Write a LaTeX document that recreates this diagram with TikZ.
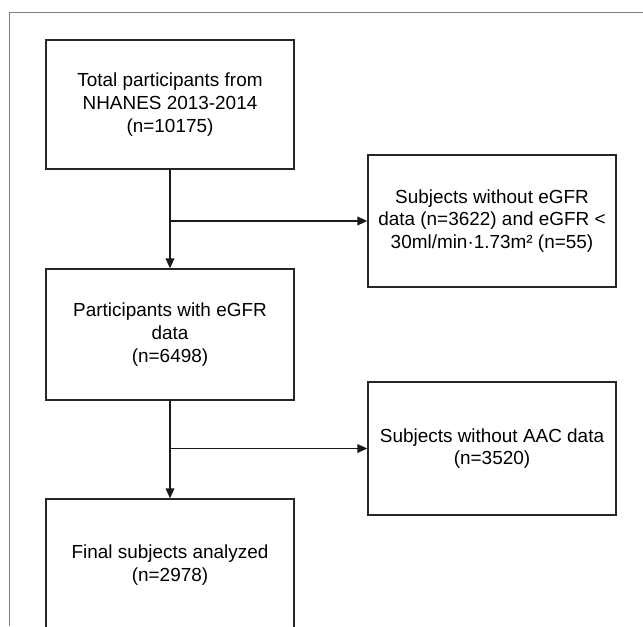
\documentclass[tikz,border=0pt]{standalone}
\usepackage{fontspec}
\setmainfont{Liberation Sans}
\usetikzlibrary{arrows.meta}

\begin{document}
\begin{tikzpicture}[x=0.75pt,y=-0.75pt,>={Triangle[length=7.5pt,width=6.5pt]},
  main node/.style={rectangle,draw=black!85,line width=1pt,align=center,
    minimum width=186pt,font=\fontsize{14.2}{17}\selectfont},
  side node/.style={main node,minimum height=99pt},
  flow/.style={->,line width=1.1pt,draw=black!90}]
\useasboundingbox (0,0) rectangle (643,626);
\clip (0,0) rectangle (643,626);

% outer frame
\draw[gray,line width=0.6pt] (9,626) -- (9,12) -- (643,12);

% main column
  \node[main node,minimum height=96.75pt] (total) at (170,104.5)
    {Total participants from\\NHANES 2013-2014\\(n=10175)};
  \node[main node,minimum height=98.25pt] (elig) at (170,334.5)
    {Participants with eGFR\\data\\(n=6498)};
  \node[main node,minimum height=99pt] (final) at (170,565)
    {Final subjects analyzed\\(n=2978)};

% exclusions
  \node[side node] (excl1) at (492,221)
    {Subjects without eGFR\\data (n=3622) and eGFR <\\30ml/min·1.73m² (n=55)};
  \node[side node,minimum height=99.75pt] (excl2) at (492,448.5)
    {Subjects without AAC data\\(n=3520)};

  \coordinate (b1) at (total.south |- excl1.west);
  \coordinate (b2) at (elig.south |- excl2.west);

  \draw[flow] (total) -- (elig);
  \draw[flow] (elig) -- (final);
  \draw[flow] (b1) -- (excl1);
  \draw[flow] (b2) -- (excl2);

\end{tikzpicture}
\end{document}
